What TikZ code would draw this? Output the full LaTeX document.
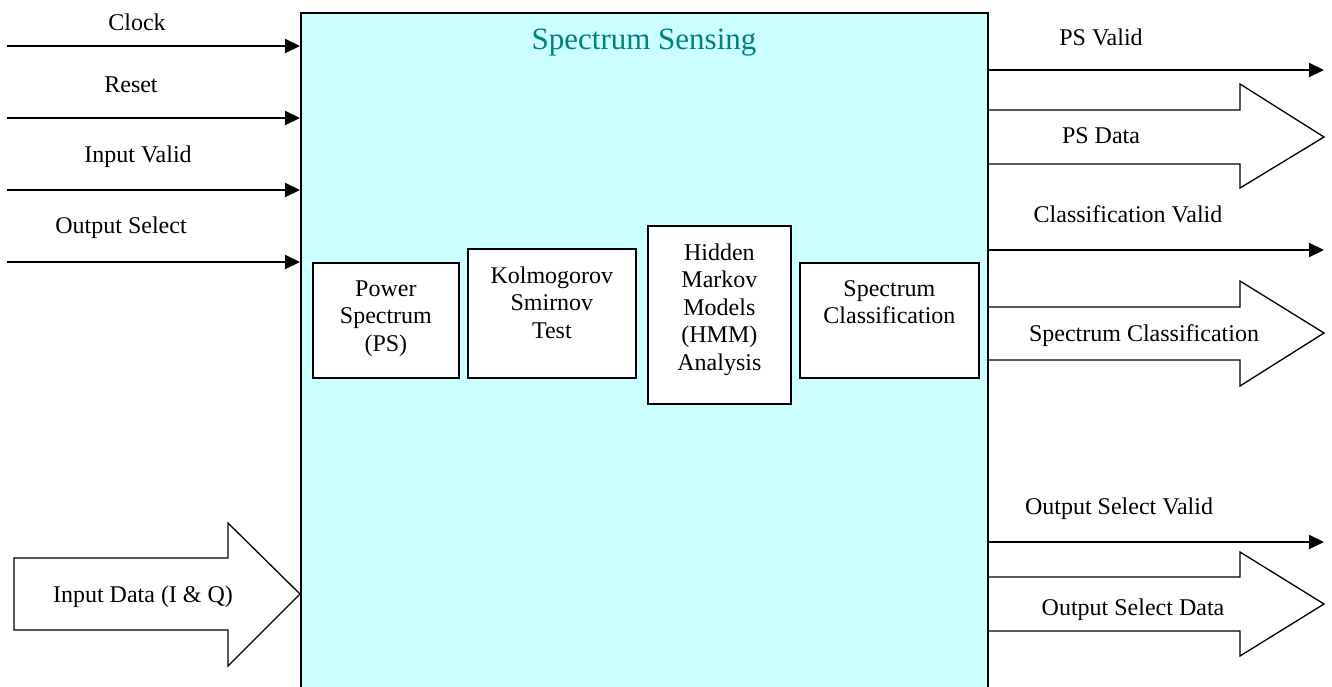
\documentclass[tikz,border=0pt]{standalone}
\usepackage{fontspec}
\setmainfont{Liberation Serif}
\usetikzlibrary{arrows.meta}
\definecolor{senscyan}{HTML}{CCFFFF}
\definecolor{titleteal}{HTML}{008080}
\newcommand{\blocktxt}[3]{\parbox[t][#2][t]{#1}{\centering\vspace*{17.5pt}#3}}
\begin{document}
\begin{tikzpicture}[x=1pt,y=-1pt,font=\fontsize{24}{27.5}\selectfont,
  sig/.style={line width=1.9pt,-{Triangle[length=15pt,width=14pt]}},
  bus/.style={line width=1.3pt,fill=white,line join=miter},
  blk/.style={draw,line width=1.8pt,fill=white,inner sep=0pt,anchor=north west},
  lbl/.style={inner sep=0pt}]
\useasboundingbox (0,0) rectangle (1332,686);
% output buses (under the block edge)
\draw[bus] (987,110) -- (1240,110) -- (1240,84) -- (1324,137) -- (1240,188) -- (1240,164) -- (987,164) -- cycle;
\draw[bus] (987,307) -- (1240,307) -- (1240,281) -- (1324,333) -- (1240,386) -- (1240,360) -- (987,360) -- cycle;
\draw[bus] (987,577) -- (1240,577) -- (1240,552) -- (1324,604) -- (1240,656) -- (1240,631) -- (987,631) -- cycle;
% main block
\node (ss) [draw,line width=1.8pt,fill=senscyan,inner sep=0pt,anchor=north west,minimum width=687pt,minimum height=700pt] at (300,12) {};
\node (title) [lbl,text=titleteal,font=\fontsize{31}{36}\selectfont] at (644,43) {Spectrum Sensing};
% inner blocks
\node (ps) [blk] at (312,262) {\blocktxt{146pt}{115pt}{Power\\Spectrum\\(PS)}};
\node (ks) [blk] at (467,248) {\blocktxt{168pt}{129pt}{Kolmogorov\\Smirnov\\Test}};
\node (hmm) [blk] at (647,225) {\blocktxt{143pt}{178pt}{Hidden\\Markov\\Models\\(HMM)\\Analysis}};
\node (sc) [blk] at (799,262) {\blocktxt{179pt}{115pt}{Spectrum\\Classification}};
% inputs
\coordinate (clk) at (7,46);
\coordinate (rst) at (7,118);
\coordinate (inv) at (7,190);
\coordinate (osel) at (7,262);
\draw[sig] (clk) -- (clk -| ss.west);
\draw[sig] (rst) -- (rst -| ss.west);
\draw[sig] (inv) -- (inv -| ss.west);
\draw[sig] (osel) -- (osel -| ss.west);
\node (clklbl) [lbl] at (137,22) {Clock};
\node (rstlbl) [lbl] at (131,85) {Reset};
\node (invlbl) [lbl] at (138,157) {Input Valid};
\node (osellbl) [lbl] at (121,228) {Output Select};
% input data bus
\draw[bus] (14,558) -- (228,558) -- (228,523) -- (300,594) -- (228,666) -- (228,630) -- (14,630) -- cycle;
\node (dinlbl) [lbl] at (143,597) {Input Data (I \& Q)};
% outputs
\coordinate (psv) at (1324,70);
\coordinate (clv) at (1324,250);
\coordinate (osv) at (1324,542);
\draw[sig] (psv -| ss.east) -- (psv);
\draw[sig] (clv -| ss.east) -- (clv);
\draw[sig] (osv -| ss.east) -- (osv);
\node (psvlbl) [lbl] at (1101,37) {PS Valid};
\node (clvlbl) [lbl] at (1128,214) {Classification Valid};
\node (osvlbl) [lbl] at (1119,509) {Output Select Valid};
\node (psdlbl) [lbl] at (1101,136) {PS Data};
\node (sclbl) [lbl] at (1144,336) {Spectrum Classification};
\node (osdlbl) [lbl] at (1133,610) {Output Select Data};
\end{tikzpicture}
\end{document}
